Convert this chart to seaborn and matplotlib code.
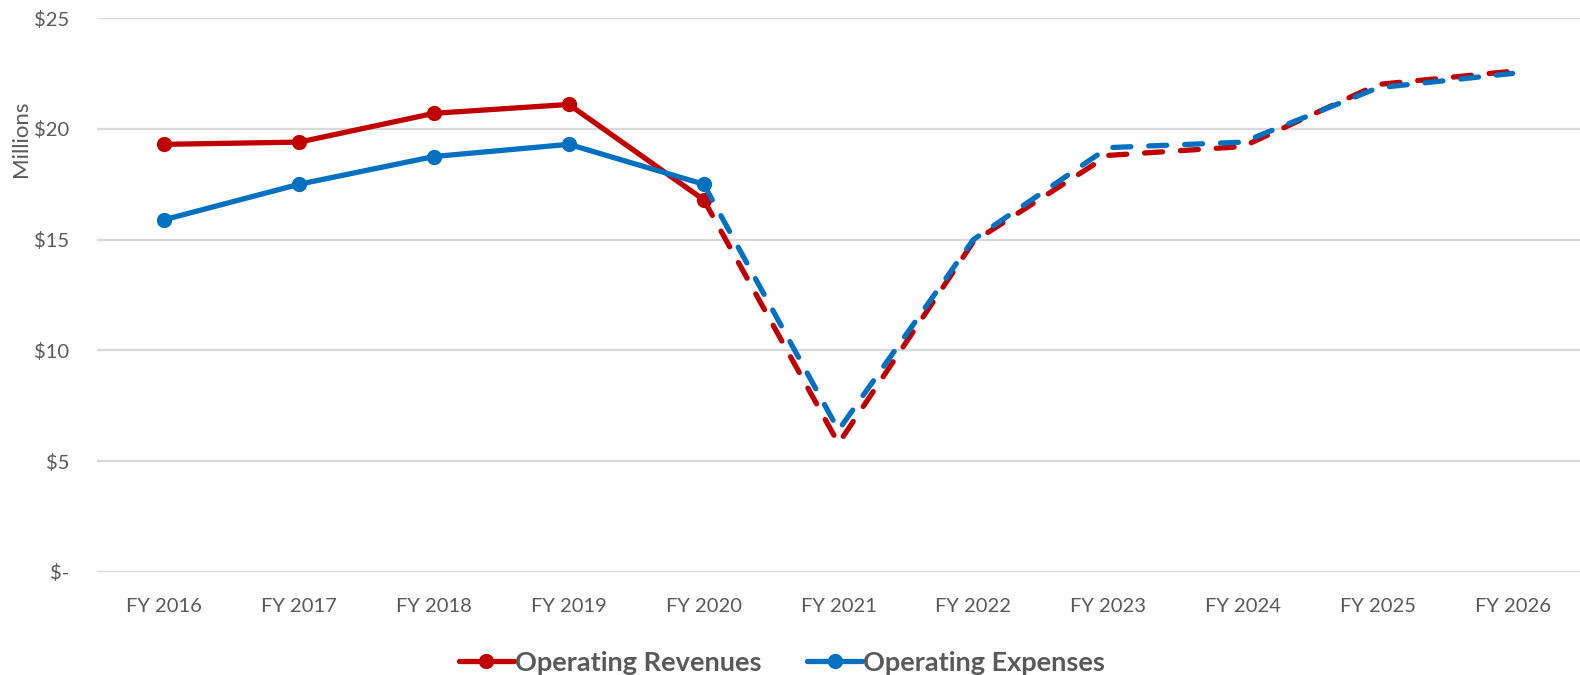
"""Operating revenues vs operating expenses, actual and projected"""

import pandas as pd
import seaborn as sns
import matplotlib.pyplot as plt
from matplotlib.lines import Line2D

# data (millions of dollars)
years = ['FY 2016', 'FY 2017', 'FY 2018', 'FY 2019', 'FY 2020', 'FY 2021',
         'FY 2022', 'FY 2023', 'FY 2024', 'FY 2025', 'FY 2026']
revenues = [19.3, 19.4, 20.7, 21.1, 16.8, 5.8, 14.9, 18.8, 19.2, 22.0, 22.6]
expenses = [15.9, 17.5, 18.75, 19.3, 17.5, 6.4, 15.0, 19.15, 19.4, 21.85, 22.5]
last_actual = 4  # FY 2020 - everything after is projected (dashed)

y_ticks = [0, 5, 10, 15, 20, 25]
y_tick_labels = ['$-', '$5', '$10', '$15', '$20', '$25']

RED = '#C00000'
BLUE = '#0070C0'
GREY_TXT = '#595959'

sns.set_theme(style='white')
plt.rcParams['font.family'] = ['Lato', 'DejaVu Sans']

df = pd.DataFrame({'pos': range(len(years)), 'year': years,
                   'Operating Revenues': revenues,
                   'Operating Expenses': expenses})
actual = df[df['pos'] <= last_actual]
proj = df[df['pos'] >= last_actual]

fig = plt.figure(figsize=(15.8, 6.75), dpi=100)
ax = fig.add_axes([0.0614, 0.1526, 0.9386, 0.8207])

# gridlines
for v in y_ticks:
    ax.axhline(v, color='#D9D9D9', lw=1.6, zorder=0)

for col, colour in [('Operating Revenues', RED), ('Operating Expenses', BLUE)]:
    sns.lineplot(data=actual, x='pos', y=col, ax=ax, color=colour, lw=3.8,
                 marker='o', markersize=11, markeredgewidth=0,
                 solid_capstyle='round', zorder=3)
    sns.lineplot(data=proj, x='pos', y=col, ax=ax, color=colour, lw=3.8,
                 linestyle=(0, (3.4, 3.4)), dash_capstyle='round', zorder=3)

ax.set_xlim(-0.5, len(years) - 0.5)
ax.set_ylim(0, 25)
ax.set_xticks(range(len(years)))
ax.set_xticklabels(years, fontsize=14.5, color=GREY_TXT)
ax.set_yticks(y_ticks)
ax.set_yticklabels(y_tick_labels, fontsize=14.5, color=GREY_TXT)
ax.tick_params(axis='x', length=0, pad=19)
ax.tick_params(axis='y', length=0, pad=20)
ax.set_xlabel('')
ax.set_ylabel('')
for s in ax.spines.values():
    s.set_visible(False)
ax.patch.set_alpha(0)

fig.text(0.0135, 0.794, 'Millions', rotation=90, fontsize=16, color=GREY_TXT,
         ha='center', va='center')

handles = [Line2D([], [], color=RED, lw=3.8, marker='o', markersize=11,
                  markeredgewidth=0),
           Line2D([], [], color=BLUE, lw=3.8, marker='o', markersize=11,
                  markeredgewidth=0)]
leg = fig.legend(handles, ['Operating Revenues', 'Operating Expenses'],
                 loc='center', bbox_to_anchor=(0.495, 0.018), ncol=2,
                 frameon=False, handlelength=2.0, handletextpad=0.05,
                 columnspacing=1.7, prop={'size': 19.5, 'weight': 'bold'})
for t in leg.get_texts():
    t.set_color(GREY_TXT)

fig.savefig('out.png', dpi=100)
plt.close(fig)
